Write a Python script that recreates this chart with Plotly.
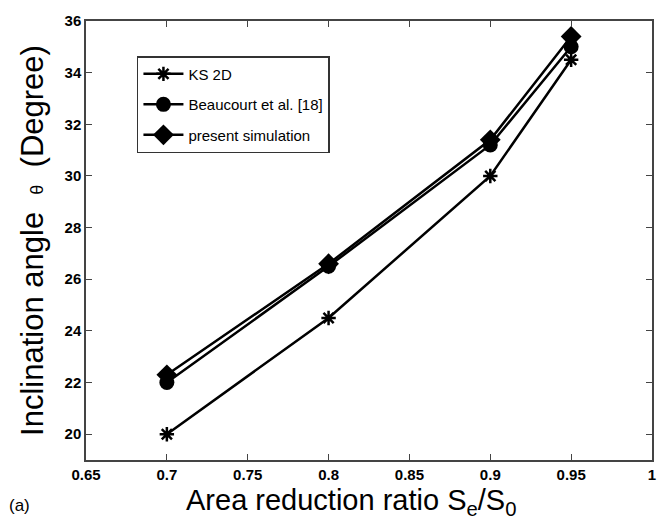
import plotly.graph_objects as go

x_vals = [0.7, 0.8, 0.9, 0.95]
ks2d = [20.0, 24.5, 30.0, 34.5]
beaucourt = [22.0, 26.5, 31.2, 35.0]
present = [22.3, 26.6, 31.4, 35.4]

x_ticks = [0.65, 0.7, 0.75, 0.8, 0.85, 0.9, 0.95, 1.0]
x_tick_text = ["0.65", "0.7", "0.75", "0.8", "0.85", "0.9", "0.95", "1"]
y_ticks = [20, 22, 24, 26, 28, 30, 32, 34, 36]

fig = go.Figure()
fig.add_trace(go.Scatter(x=x_vals, y=ks2d, mode="lines+markers", name="KS 2D", legendgroup="a",
                         line=dict(color="black", width=2.5),
                         marker=dict(symbol="asterisk-open", size=12, color="black",
                                     line=dict(color="black", width=2.5))))
fig.add_trace(go.Scatter(x=x_vals, y=beaucourt, mode="lines+markers", name="Beaucourt et al. [18]",
                         legendgroup="b",
                         line=dict(color="black", width=2.5),
                         marker=dict(symbol="circle", size=15, color="black")))
fig.add_trace(go.Scatter(x=x_vals, y=present, mode="lines+markers", name="present simulation",
                         legendgroup="c",
                         line=dict(color="black", width=2.5),
                         marker=dict(symbol="diamond", size=16, color="black")))

axis_common = dict(showline=True, linecolor="#444", linewidth=1.5, mirror="ticks",
                   ticks="inside", ticklen=6, tickcolor="#444", showgrid=False, zeroline=False,
                   tickfont=dict(family="Liberation Sans", size=15, color="black", weight="bold"))

fig.update_xaxes(range=[0.65, 1.0], tickvals=x_ticks, ticktext=x_tick_text, **axis_common)
fig.update_yaxes(range=[19, 36], tickvals=y_ticks,
                 title=dict(text="Inclination angle  <span style='font-size:18px'>θ</span>  (Degree)",
                            font=dict(family="Liberation Sans", size=31, color="black"), standoff=12),
                 **axis_common)

fig.update_layout(
    width=668, height=522,
    margin=dict(l=86, r=14, t=12, b=62),
    plot_bgcolor="white", paper_bgcolor="white",
    showlegend=True,
    legend=dict(x=0.09, y=0.92, xanchor="left", yanchor="top",
                bgcolor="white", bordercolor="#333", borderwidth=1.5,
                font=dict(family="Liberation Sans", size=15, color="black"),
                itemwidth=40, tracegroupgap=8),
)
fig.add_annotation(text="Area reduction ratio S<sub>e</sub>/S<sub>0</sub>", xref="paper", yref="paper",
                   x=0.468, y=-0.05, xanchor="center", yanchor="top", showarrow=False,
                   font=dict(family="Liberation Sans", size=29, color="black"))
fig.add_annotation(text="(a)", xref="paper", yref="paper", x=-0.14, y=-0.13,
                   xanchor="left", yanchor="bottom", showarrow=False,
                   font=dict(family="Liberation Sans", size=17, color="black"))

fig.write_html("out.html")
